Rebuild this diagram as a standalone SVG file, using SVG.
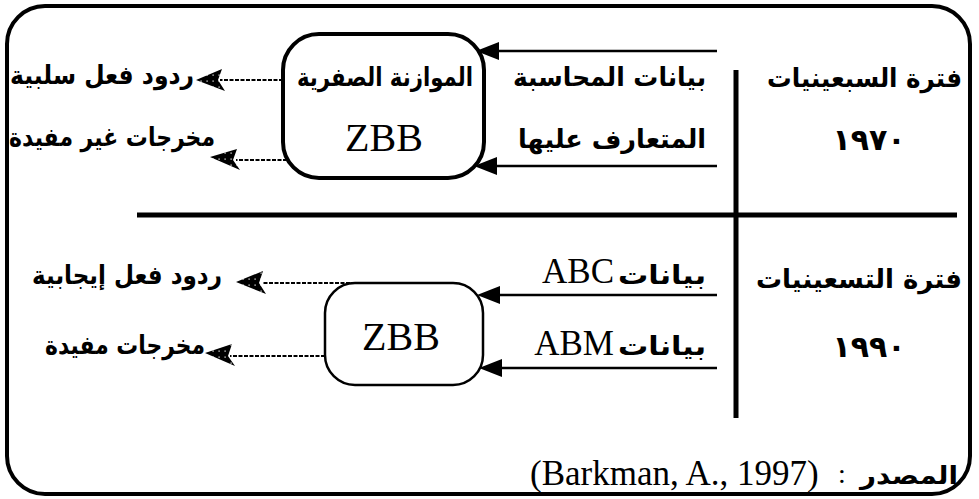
<svg xmlns="http://www.w3.org/2000/svg" width="979" height="499" viewBox="0 0 979 499">
<defs>
<style>
.ar{font-family:"DejaVu Sans",sans-serif;font-weight:bold;font-size:26px;fill:#000}
.arn{font-family:"DejaVu Sans",sans-serif;font-weight:bold;font-size:25px;fill:#000}
.lat{font-family:"Liberation Serif","Times New Roman",serif;font-size:35px;fill:#000}
.zbb{font-family:"Liberation Serif","Times New Roman",serif;font-size:40px;fill:#000}
.num{font-family:"DejaVu Sans",sans-serif;font-weight:bold;font-size:30px;fill:#000}
.solid{stroke:#000;stroke-width:2.5;fill:none}
.dash{stroke:#000;stroke-width:2;stroke-dasharray:4 1.5;fill:none}
.box{fill:#fff;stroke:#000}
</style>
<pattern id="hatch" width="6" height="6" patternUnits="userSpaceOnUse">
<rect width="6" height="6" fill="#000"/>
<rect x="2.5" y="2.5" width="1.2" height="1.2" fill="#fff"/>
</pattern>
</defs>
<rect x="0" y="0" width="979" height="499" fill="#fff"/>
<rect id="frame" x="7" y="6" width="963" height="488" rx="38" fill="none" stroke="#000" stroke-width="4"/>
<g id="dividers">
<line x1="736" y1="70" x2="736" y2="418" stroke="#000" stroke-width="5"/>
<line x1="137" y1="215" x2="957" y2="215" stroke="#000" stroke-width="5"/>
</g>
<g id="connectors">
<line class="solid" x1="717" y1="51" x2="496" y2="51"/>
<polygon points="476,51 499,42 499,60"/>
<line class="solid" x1="717" y1="166" x2="494" y2="166"/>
<polygon points="474,166 497,157 497,175"/>
<line class="solid" x1="717" y1="295" x2="497" y2="295"/>
<polygon points="477,295 500,286 500,304"/>
<line class="solid" x1="717" y1="368" x2="499" y2="368"/>
<polygon points="479,368 502,359 502,377"/>
<line class="dash" x1="283" y1="80" x2="220" y2="80"/>
<polygon fill="url(#hatch)" points="196,80 222,69 218,80 225,91"/>
<line class="dash" x1="287" y1="160" x2="236" y2="160"/>
<polygon fill="url(#hatch)" points="210,157 237,149 233,160 240,170"/>
<line class="dash" x1="350" y1="283" x2="262" y2="283"/>
<polygon fill="url(#hatch)" points="236,282 263,271 259,283 266,294"/>
<line class="dash" x1="325" y1="356" x2="230" y2="356"/>
<polygon fill="url(#hatch)" points="205,353 232,344 228,356 235,366"/>
</g>
<g id="node-zbb-1970">
<rect class="box" x="283" y="34" width="201" height="144" rx="36" stroke-width="4"/>
<text class="ar" x="473" y="86" text-anchor="end" textLength="176" lengthAdjust="spacingAndGlyphs">الموازنة الصفرية</text>
<text class="zbb" x="384" y="151" text-anchor="middle">ZBB</text>
</g>
<g id="node-zbb-1990">
<rect class="box" x="325" y="283" width="158" height="102" rx="30" stroke-width="2.5"/>
<text class="zbb" x="401" y="350" text-anchor="middle">ZBB</text>
</g>
<g id="labels-1970">
<text class="ar" x="194" y="84" text-anchor="end" textLength="184" lengthAdjust="spacingAndGlyphs">ردود فعل سلبية</text>
<text class="ar" x="215" y="146" text-anchor="end" textLength="206" lengthAdjust="spacingAndGlyphs">مخرجات غير مفيدة</text>
<text class="ar" x="706" y="86" text-anchor="end" textLength="193" lengthAdjust="spacingAndGlyphs">بيانات المحاسبة</text>
<text class="ar" x="706" y="148" text-anchor="end" textLength="188" lengthAdjust="spacingAndGlyphs">المتعارف عليها</text>
<text class="ar" x="962" y="87" text-anchor="end" textLength="195" lengthAdjust="spacingAndGlyphs">فترة السبعينيات</text>
<text class="num" x="869" y="150" text-anchor="middle">١٩٧٠</text>
</g>
<g id="labels-1990">
<text class="ar" x="222" y="284" text-anchor="end" textLength="190" lengthAdjust="spacingAndGlyphs">ردود فعل إيجابية</text>
<text class="ar" x="205" y="354" text-anchor="end" textLength="160" lengthAdjust="spacingAndGlyphs">مخرجات مفيدة</text>
<text class="ar" x="706" y="284" text-anchor="end" textLength="88" lengthAdjust="spacingAndGlyphs">بيانات</text>
<text class="lat" x="614" y="283" text-anchor="end">ABC</text>
<text class="ar" x="706" y="355" text-anchor="end" textLength="88" lengthAdjust="spacingAndGlyphs">بيانات</text>
<text class="lat" x="614" y="355" text-anchor="end">ABM</text>
<text class="ar" x="962" y="288" text-anchor="end" textLength="206" lengthAdjust="spacingAndGlyphs">فترة التسعينيات</text>
<text class="num" x="869" y="357" text-anchor="middle">١٩٩٠</text>
</g>
<g id="source">
<text class="lat" x="530" y="485">(Barkman, A., 1997)</text>
<text class="lat" x="842" y="483" text-anchor="middle" style="font-size:28px">:</text>
<text class="arn" x="958" y="484" text-anchor="end" textLength="98" lengthAdjust="spacingAndGlyphs">المصدر</text>
</g>
</svg>
